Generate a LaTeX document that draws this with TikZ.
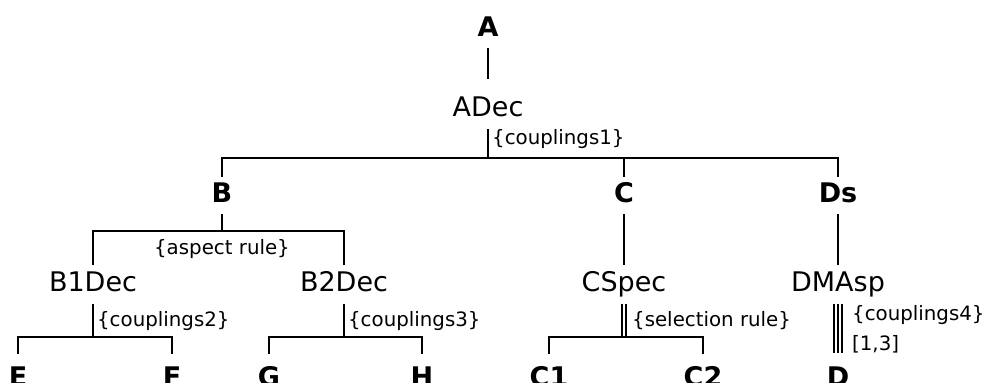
\documentclass[tikz,border=0pt]{standalone}
\usepackage{fontspec}
\setmainfont{DejaVu Sans}
\begin{document}
\begin{tikzpicture}[x=0.5pt, y=-0.5pt, line width=1.15pt,
    ent/.style={font=\fontsize{13.5}{16}\selectfont\bfseries, anchor=base, inner xsep=2pt, inner ysep=2.5pt, text height=10pt, text depth=2.5pt},
    dec/.style={font=\fontsize{13.5}{16}\selectfont, anchor=base, inner xsep=2pt, inner ysep=3pt, text height=10pt, text depth=2.5pt},
    lbl/.style={font=\fontsize{9.9}{12}\selectfont, inner sep=1.5pt}]
    \useasboundingbox (0,0) rectangle (984,383);

    % entities and decompositions
    \node[ent] (A) at (488,37) {A};
    \node[dec] (ADec) at (488,117) {ADec};
    \node[ent] (B) at (222,203) {B};
    \node[ent] (C) at (624,203) {C};
    \node[ent] (Ds) at (838,203) {Ds};
    \node[dec] (B1Dec) at (93,292) {B1Dec};
    \node[dec] (B2Dec) at (344,292) {B2Dec};
    \node[dec] (CSpec) at (624,292) {CSpec};
    \node[dec] (DMAsp) at (838,292) {DMAsp};
    \node[ent] (E) at (18,387) {E};
    \node[ent] (F) at (172,387) {F};
    \node[ent] (G) at (269,387) {G};
    \node[ent] (H) at (422,387) {H};
    \node[ent] (C1) at (549,387) {C1};
    \node[ent] (C2) at (703,387) {C2};
    \node[ent] (D) at (838,387) {D};

    \coordinate (jA) at (488,158);
    \coordinate (jB) at (222,231);
    \coordinate (jB1) at (93,337);
    \coordinate (jB2) at (344,337);
    \coordinate (jC) at (624,337);

    \draw[shorten >=5.5pt] (A) -- (ADec);

    % first level
    \draw (ADec) -- (jA) node[lbl, pos=0.35, right] {\{couplings1\}};
    \draw (B.north) |- (jA) -| (Ds.north);
    \draw (C) -- (C |- jA);

    % B side
    \draw (B) -- (jB);
    \draw (B1Dec.north) |- (jB) -| (B2Dec.north);
    \node[lbl, below=2pt] at (jB) {\{aspect rule\}};
    \draw (B1Dec) -- (jB1) node[lbl, midway, right] {\{couplings2\}};
    \draw[shorten <=3.5pt, shorten >=3.5pt] (E.north) |- (jB1) -| (F.north);
    \draw (B2Dec) -- (jB2) node[lbl, midway, right] {\{couplings3\}};
    \draw[shorten <=3.5pt, shorten >=3.5pt] (G.north) |- (jB2) -| (H.north);

    % C side
    \draw (C) -- (CSpec);
    \draw[double, double distance=0.8pt] (CSpec) -- (jC) node[lbl, midway, right, xshift=2pt] {\{selection rule\}};
    \draw[shorten <=3.5pt, shorten >=3.5pt] (C1.north) |- (jC) -| (C2.north);

    % D side
    \draw (Ds) -- (DMAsp);
    \foreach \dx in {-1.9pt,0pt,1.9pt}
        \draw[shorten >=4pt] ([xshift=\dx]DMAsp.south) -- ([xshift=\dx]D.north);
    \path (DMAsp.south) -- (D.north)
        node[lbl, pos=0.2, right, xshift=5pt] {\{couplings4\}}
        node[lbl, pos=0.71, right, xshift=5pt] {[1,3]};
\end{tikzpicture}
\end{document}
